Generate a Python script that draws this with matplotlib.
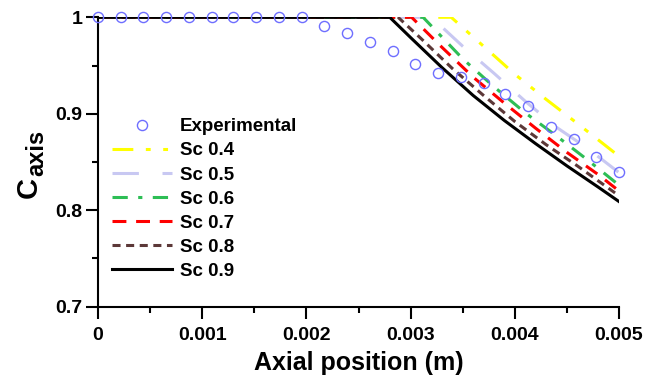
import matplotlib
matplotlib.use("Agg")
import matplotlib.pyplot as plt
import matplotlib.ticker as ticker

plt.rcParams["font.family"] = ["Liberation Sans", "DejaVu Sans"]
plt.rcParams["font.weight"] = "bold"
plt.rcParams["lines.scale_dashes"] = False

# experimental points
exp_x = [0, 0.000217, 0.000435, 0.000652, 0.00087, 0.00109, 0.0013, 0.00152,
         0.00174, 0.00196, 0.00217, 0.00239, 0.00261, 0.00283, 0.00304,
         0.00326, 0.00348, 0.0037, 0.00391, 0.00413, 0.00435, 0.00457,
         0.00478, 0.005]
exp_y = [1, 1, 1, 1, 1, 1, 1, 1, 1, 1, 0.991, 0.984, 0.974, 0.965, 0.952,
         0.942, 0.938, 0.932, 0.920, 0.908, 0.886, 0.874, 0.855, 0.840]

# simulated curves, one per Sc
sc04_x = [0, 0.00339, 0.0037, 0.004, 0.0043, 0.0046, 0.005]
sc04_y = [1, 1, 0.970, 0.941, 0.915, 0.890, 0.856]
sc05_x = [0, 0.0032, 0.0035, 0.0038, 0.0041, 0.0044, 0.0047, 0.005]
sc05_y = [1, 1, 0.970, 0.942, 0.913, 0.886, 0.864, 0.839]
sc06_x = [0, 0.00312, 0.0035, 0.0038, 0.0041, 0.0044, 0.0047, 0.005]
sc06_y = [1, 1, 0.957, 0.928, 0.901, 0.877, 0.852, 0.826]
sc07_x = [0, 0.00301, 0.0033, 0.0036, 0.0039, 0.0042, 0.0045, 0.0048, 0.005]
sc07_y = [1, 1, 0.969, 0.938, 0.911, 0.885, 0.860, 0.837, 0.820]
sc08_x = [0, 0.00288, 0.0031, 0.0034, 0.0037, 0.004, 0.0043, 0.0046, 0.005]
sc08_y = [1, 1, 0.978, 0.947, 0.919, 0.892, 0.868, 0.846, 0.815]
sc09_x = [0, 0.0028, 0.003, 0.0033, 0.0036, 0.0039, 0.0042, 0.0045, 0.0048, 0.005]
sc09_y = [1, 1, 0.979, 0.948, 0.919, 0.893, 0.869, 0.846, 0.824, 0.809]

fig = plt.figure(figsize=(6.5, 3.85), dpi=100)
ax = fig.add_axes([98 / 650, 1 - 306.7 / 385, (619 - 98) / 650, (306.7 - 17.3) / 385])

lw = 2.2
ax.plot(sc04_x, sc04_y, color="#FFFF00", lw=lw, dashes=(15, 9, 3.5, 9, 3.5, 9),
        label="Sc 0.4", zorder=2)
ax.plot(sc05_x, sc05_y, color="#C8C8F2", lw=lw, dashes=(19, 17),
        label="Sc 0.5", zorder=2)
ax.plot(sc06_x, sc06_y, color="#2DBE55", lw=lw, dashes=(11, 7.5, 3, 7.5),
        label="Sc 0.6", zorder=2)
ax.plot(sc07_x, sc07_y, color="#FF0000", lw=lw, dashes=(10, 7),
        label="Sc 0.7", zorder=2)
ax.plot(sc08_x, sc08_y, color="#5C3838", lw=lw, dashes=(5.8, 4),
        label="Sc 0.8", zorder=2)
ax.plot(sc09_x, sc09_y, color="black", lw=lw, label="Sc 0.9", zorder=3)
ax.plot(exp_x, exp_y, ls="none", marker="o", ms=7.3, mfc="none",
        mec="#6E6EFF", mew=1.0, label="Experimental", zorder=5, clip_on=False)

ax.set_xlim(0, 0.005)
ax.set_ylim(0.7, 1.0)
ax.xaxis.set_major_locator(ticker.MultipleLocator(0.001))
ax.xaxis.set_minor_locator(ticker.MultipleLocator(0.0005))
ax.yaxis.set_major_locator(ticker.MultipleLocator(0.1))
ax.yaxis.set_minor_locator(ticker.MultipleLocator(0.05))
ax.xaxis.set_major_formatter(ticker.FuncFormatter(lambda v, p: "0" if abs(v) < 1e-12 else f"{v:.3f}"))
ax.yaxis.set_major_formatter(ticker.FuncFormatter(lambda v, p: "1" if abs(v - 1) < 1e-9 else f"{v:.1f}"))

for side in ["top", "right"]:
    ax.spines[side].set_visible(False)
for side in ["left", "bottom"]:
    ax.spines[side].set_linewidth(1.5)
ax.tick_params(which="major", direction="out", length=8.3, width=1.5, labelsize=14)
ax.tick_params(which="minor", direction="out", length=4.3, width=1.5)
ax.tick_params(axis="x", which="major", pad=6)
ax.tick_params(axis="y", which="major", pad=3)
for lab in ax.get_xticklabels() + ax.get_yticklabels():
    lab.set_fontweight("bold")

ax.set_xlabel("Axial position (m)", fontsize=18, fontweight="bold", labelpad=5.5)

# y label: C with subscript "axis"
fig.text(36.7 / 650, 1 - 198 / 385, "C", rotation=90, rotation_mode="anchor",
         ha="left", va="baseline", fontsize=21, fontweight="bold")
fig.text(43 / 650, 1 - 176 / 385, "axis", rotation=90, rotation_mode="anchor",
         ha="left", va="baseline", fontsize=17, fontweight="bold")

handles, labels = ax.get_legend_handles_labels()
order = [6, 0, 1, 2, 3, 4, 5]
ax.legend([handles[i] for i in order], [labels[i] for i in order],
          loc="upper left", bbox_to_anchor=(14 / 521, 1 - 101 / 289.4),
          frameon=False, fontsize=13.5, handlelength=3.2, handletextpad=0.43,
          labelspacing=0.37, borderpad=0, borderaxespad=0)

fig.savefig("out.png", dpi=100)
